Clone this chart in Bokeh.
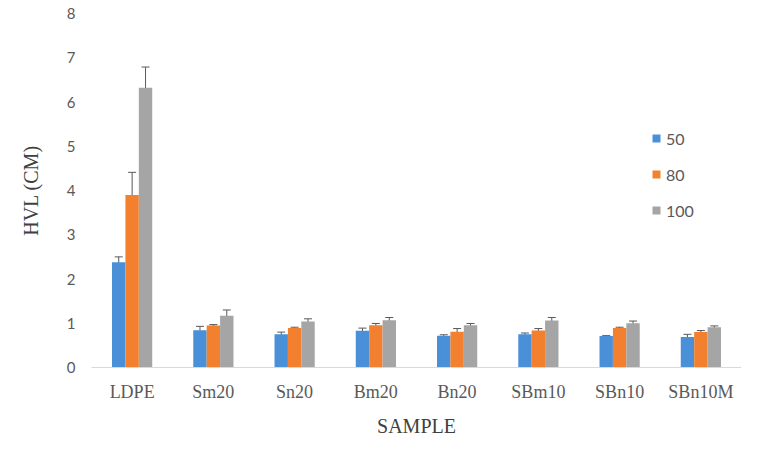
from bokeh.plotting import figure
from bokeh.models import ColumnDataSource, FactorRange, Range1d, Whisker, TeeHead, Legend, LegendItem, SingleIntervalTicker
from bokeh.transform import dodge
from bokeh.embed import file_html
from bokeh.resources import INLINE

categories = ["LDPE", "Sm20", "Sn20", "Bm20", "Bn20", "SBm10", "SBn10", "SBn10M"]
series_names = ["50", "80", "100"]
v50 = [2.38, 0.84, 0.75, 0.83, 0.72, 0.75, 0.71, 0.69]
v80 = [3.90, 0.95, 0.89, 0.955, 0.81, 0.835, 0.89, 0.80]
v100 = [6.32, 1.17, 1.04, 1.07, 0.955, 1.06, 1.00, 0.91]
e50 = [0.12, 0.09, 0.05, 0.06, 0.02, 0.03, 0.01, 0.06]
e80 = [0.51, 0.02, 0.02, 0.04, 0.07, 0.045, 0.02, 0.035]
e100 = [0.47, 0.13, 0.06, 0.06, 0.04, 0.07, 0.05, 0.03]
colors = ["#4A90D8", "#F2802E", "#A5A5A5"]
y_title = "HVL (CM)"
x_title = "SAMPLE"

p = figure(x_range=FactorRange(factors=categories), y_range=Range1d(0, 8),
           width=741, height=439, output_backend="svg", toolbar_location=None,
           min_border_left=91, min_border_right=0, min_border_top=13, min_border_bottom=72)
p.outline_line_color = None
p.xgrid.grid_line_color = None
p.ygrid.grid_line_color = None

bw = 0.165
offsets = [-bw, 0.0, bw]
renderers = []
for vals, errs, off, col in zip([v50, v80, v100], [e50, e80, e100], offsets, colors):
    src = ColumnDataSource(dict(cat=categories, top=vals,
                                upper=[v + e for v, e in zip(vals, errs)],
                                lower=[v - e for v, e in zip(vals, errs)]))
    r = p.vbar(x=dodge("cat", off, range=p.x_range), top="top", width=bw, bottom=0,
               source=src, fill_color=col, line_color=None)
    renderers.append(r)
    w = Whisker(base=dodge("cat", off, range=p.x_range), upper="upper", lower="lower", source=src,
                line_color="#595959", line_width=1,
                upper_head=TeeHead(size=8, line_color="#595959", line_width=1),
                lower_head=TeeHead(size=8, line_color="#595959", line_width=1))
    p.add_layout(w)

# axes
p.yaxis.ticker = SingleIntervalTicker(interval=1)
p.yaxis.axis_line_color = None
p.yaxis.major_tick_line_color = None
p.yaxis.minor_tick_line_color = None
p.yaxis.major_label_text_font = "Lato"
p.yaxis.major_label_text_font_size = "15px"
p.yaxis.major_label_text_color = "#595959"
p.yaxis.major_label_standoff = 10
p.yaxis.axis_label = y_title
p.yaxis.axis_label_text_font = "Liberation Serif"
p.yaxis.axis_label_text_font_style = "normal"
p.yaxis.axis_label_text_font_size = "20px"
p.yaxis.axis_label_text_color = "#404040"
p.yaxis.axis_label_standoff = 22

p.xaxis.axis_line_color = "#D9D9D9"
p.xaxis.axis_line_width = 1
p.xaxis.major_tick_line_color = None
p.xaxis.minor_tick_line_color = None
p.xaxis.major_label_text_font = "Liberation Serif"
p.xaxis.major_label_text_font_size = "18px"
p.xaxis.major_label_text_color = "#595959"
p.xaxis.major_label_standoff = 8
p.xaxis.axis_label = x_title
p.xaxis.axis_label_text_font = "Liberation Serif"
p.xaxis.axis_label_text_font_style = "normal"
p.xaxis.axis_label_text_font_size = "20px"
p.xaxis.axis_label_text_color = "#404040"
p.xaxis.axis_label_standoff = 10

legend = Legend(items=[LegendItem(label=n, renderers=[r]) for n, r in zip(series_names, renderers)],
                location=(560, 147), orientation="vertical",
                glyph_width=10, glyph_height=10, label_height=20, spacing=16,
                label_standoff=5, padding=0, margin=0, border_line_color=None,
                background_fill_alpha=0,
                label_text_font="Lato", label_text_font_size="16px", label_text_color="#595959")
p.add_layout(legend)

open("out.html", "w").write(file_html(p, INLINE))
